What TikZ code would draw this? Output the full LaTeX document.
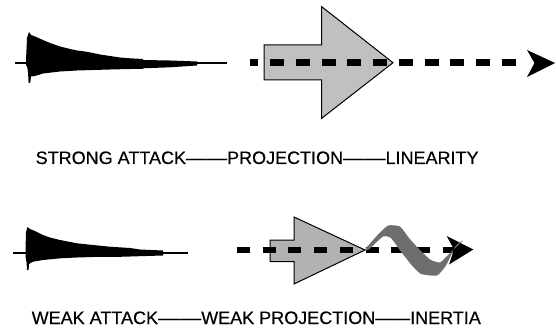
\documentclass[tikz,border=0pt]{standalone}
\usepackage{fontspec}
\setmainfont{Liberation Sans}
\newfontfamily\capfont[FakeBold=0.4]{Liberation Sans}
\usepackage{graphicx}
\definecolor{arrowgray}{HTML}{C0C0C0}
\definecolor{arrowgraydark}{HTML}{B2B2B2}
\definecolor{ribbongray}{HTML}{6E6E6E}
\newcommand{\longdash}[1]{\scalebox{#1}[1]{——}}
\begin{document}
\begin{tikzpicture}[x=1pt,y=-1pt,
  wave/.style={fill=black},
  waveline/.style={line width=2pt},
  bigarrow/.style={draw=black, line width=1pt, line join=miter},
  dashline/.style={line width=6.5pt},
  headtip/.style={fill=black},
  ribbon/.style={fill=ribbongray},
  caption/.style={anchor=base west, inner sep=0pt, font=\capfont\fontsize{18}{20}\selectfont}]
\useasboundingbox (0,0) rectangle (556,331);

% ---------- upper row: strong attack ----------
% sound envelope
\draw[waveline] (15,63.3) -- (227,63.3);
\fill[wave] (26,60) -- (27,38) -- (29,32) -- (31,35) -- (35,36.5) -- (43,40) -- (50,43)
  -- (60,46.5) -- (70,49) -- (77,50.5) -- (85,51.5) -- (93,53) -- (100,54.5)
  -- (110,56) -- (120,57.5) -- (130,58.3) -- (143,59) -- (143,60) -- (170,60.5)
  -- (197,61.5) -- (197,65.5) -- (170,67.3) -- (143,68.3) -- (143,68.8)
  -- (130,69) -- (110,69.5) -- (93,70) -- (77,70.5) -- (60,71.5) -- (43,73.5)
  -- (35,76) -- (31,76.5) -- (30.2,83) -- (28.6,83) -- (28,72) -- (27,66) -- (26,66) -- cycle;

% projection arrow
\draw[bigarrow, fill=arrowgray] (264,45) -- (321.7,45) -- (321.7,6.7) -- (393,62.7)
  -- (321.7,118.3) -- (321.7,80) -- (264,80) -- cycle;

% linear path
\draw[dashline, dash pattern=on 14pt off 11.75pt, dash phase=5.75pt] (250,62.7) -- (516,62.7);
\fill[headtip] (555,63) -- (527,50) -- (534.5,63) -- (527,77) -- cycle;

% caption
\node[caption] (strong) at (35.5,164)
  {STRONG ATTACK\longdash{1.14}PROJECTION\longdash{1.18}LINEARITY};

% ---------- lower row: weak attack ----------
% sound envelope
\draw[waveline] (13,253.3) -- (188,253.3);
\fill[wave] (25.5,250) -- (26,232) -- (27.5,227) -- (30,229) -- (35,231) -- (43,235)
  -- (50,237.5) -- (60,240) -- (77,243.3) -- (93,245) -- (110,246.7) -- (130,248)
  -- (140,249.5) -- (163,250.5) -- (163,255.5) -- (140,256.2) -- (120,256.8)
  -- (93,257) -- (77,257.5) -- (60,258.3) -- (43,260) -- (33,261.7) -- (29,264)
  -- (28.6,270) -- (27,270) -- (26.5,262) -- (25.5,257) -- cycle;

% weak projection arrow
\draw[bigarrow, fill=arrowgraydark] (270,240) -- (294,240) -- (294,217) -- (365,250)
  -- (294,284) -- (294,261.7) -- (270,261.7) -- cycle;

% path that loses its line
\draw[dashline, line width=6pt, dash pattern=on 13pt off 12.7pt] (237,249.5) -- (457,249.5);
\fill[headtip] (473.3,249.5) -- (446.7,236) -- (454,249.5) -- (449,264.5) -- cycle;

% twisted ribbon
\fill[ribbon] plot[smooth cycle, tension=0.3] coordinates {
  (365,249.5) (376.7,236) (388,225.5) (400,226.5) (409,238) (419,249)
  (430,259.5) (440,262.5) (450,253) (463,240.5) (455.5,246) (446,265.5)
  (437,275.5) (421,274) (412,265.5) (400.5,251) (391,238) (383,236.5)
  (368.3,249.8)};

% caption
\node[caption] (weak) at (31.5,324)
  {WEAK ATTACK\longdash{1.2}WEAK PROJECTION\longdash{0.97}INERTIA};
\end{tikzpicture}
\end{document}
